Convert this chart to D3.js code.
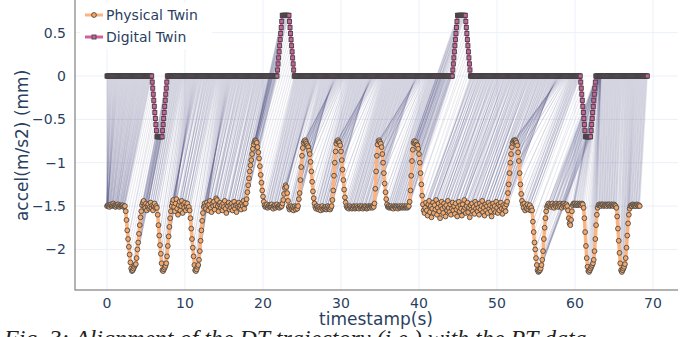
<!DOCTYPE html>
<html>
<head>
<meta charset="utf-8">
<script src="https://cdn.jsdelivr.net/npm/d3@7"></script>
<style>
  body { margin: 0; background: #fff; }
  svg { display: block; }
</style>
</head>
<body>
<div id="chart"></div>
<script>
// ---- data -------------------------------------------------------------
// physical twin, one sample every 0.1 s (already shown shifted down by 1.5)
const ptStep = 0.1;
const ptValues = [
  -1.50,-1.49,-1.50,-1.51,-1.49,-1.48,-1.50,-1.49,-1.47,-1.49,
  -1.50,-1.51,-1.49,-1.50,-1.48,-1.50,-1.51,-1.49,-1.50,-1.50,
  -1.49,-1.51,-1.50,-1.50,-1.56,-1.66,-1.78,-1.88,-1.97,-2.06,
  -2.15,-2.22,-2.25,-2.24,-2.22,-2.20,-2.18,-2.17,-2.10,-2.00,
  -1.92,-1.82,-1.72,-1.63,-1.56,-1.49,-1.46,-1.44,-1.50,-1.52,
  -1.47,-1.55,-1.50,-1.48,-1.53,-1.51,-1.46,-1.52,-1.49,-1.55,
  -1.50,-1.47,-1.52,-1.50,-1.52,-1.60,-1.72,-1.84,-1.95,-2.05,
  -2.16,-2.24,-2.25,-2.23,-2.21,-2.19,-2.16,-2.08,-1.96,-1.85,
  -1.74,-1.64,-1.56,-1.50,-1.46,-1.43,-1.51,-1.56,-1.47,-1.42,
  -1.53,-1.60,-1.49,-1.45,-1.55,-1.50,-1.44,-1.58,-1.48,-1.52,
  -1.46,-1.55,-1.50,-1.47,-1.53,-1.51,-1.55,-1.64,-1.76,-1.88,
  -1.98,-2.08,-2.18,-2.24,-2.25,-2.23,-2.20,-2.18,-2.12,-2.02,
  -1.90,-1.78,-1.67,-1.58,-1.51,-1.47,-1.50,-1.53,-1.46,-1.49,
  -1.55,-1.48,-1.44,-1.52,-1.57,-1.47,-1.50,-1.45,-1.54,-1.49,
  -1.41,-1.43,-1.50,-1.56,-1.48,-1.46,-1.52,-1.49,-1.55,-1.47,
  -1.51,-1.44,-1.53,-1.58,-1.48,-1.50,-1.46,-1.54,-1.49,-1.52,
  -1.47,-1.55,-1.50,-1.45,-1.53,-1.49,-1.57,-1.48,-1.51,-1.46,
  -1.52,-1.49,-1.54,-1.47,-1.50,-1.44,-1.53,-1.48,-1.47,-1.42,
  -1.34,-1.26,-1.18,-1.10,-1.03,-0.97,-0.90,-0.84,-0.79,-0.76,
  -0.74,-0.75,-0.77,-0.82,-0.88,-0.95,-1.04,-1.14,-1.23,-1.32,
  -1.39,-1.45,-1.49,-1.51,-1.50,-1.48,-1.52,-1.50,-1.49,-1.51,
  -1.50,-1.48,-1.51,-1.53,-1.50,-1.49,-1.52,-1.50,-1.48,-1.51,
  -1.50,-1.52,-1.49,-1.51,-1.50,-1.47,-1.43,-1.36,-1.29,-1.26,
  -1.28,-1.35,-1.44,-1.51,-1.54,-1.52,-1.50,-1.53,-1.51,-1.55,
  -1.52,-1.50,-1.54,-1.51,-1.53,-1.50,-1.42,-1.35,-1.20,-1.05,
  -0.92,-0.83,-0.77,-0.75,-0.74,-0.76,-0.78,-0.80,-0.82,-0.86,
  -0.90,-0.99,-1.10,-1.22,-1.33,-1.41,-1.47,-1.51,-1.53,-1.50,
  -1.52,-1.54,-1.51,-1.53,-1.55,-1.52,-1.50,-1.54,-1.52,-1.53,
  -1.51,-1.54,-1.52,-1.50,-1.53,-1.51,-1.54,-1.52,-1.50,-1.43,
  -1.32,-1.15,-1.00,-0.87,-0.78,-0.75,-0.74,-0.76,-0.77,-0.80,
  -0.87,-0.97,-1.08,-1.20,-1.31,-1.40,-1.46,-1.50,-1.52,-1.51,
  -1.53,-1.50,-1.52,-1.51,-1.53,-1.52,-1.50,-1.51,-1.53,-1.52,
  -1.50,-1.52,-1.51,-1.53,-1.50,-1.52,-1.51,-1.50,-1.53,-1.51,
  -1.52,-1.50,-1.51,-1.53,-1.52,-1.50,-1.51,-1.52,-1.50,-1.51,
  -1.52,-1.50,-1.51,-1.47,-1.30,-1.10,-0.92,-0.79,-0.75,-0.74,
  -0.76,-0.78,-0.82,-0.90,-1.00,-1.12,-1.24,-1.34,-1.42,-1.48,
  -1.51,-1.50,-1.52,-1.51,-1.50,-1.52,-1.51,-1.53,-1.50,-1.51,
  -1.52,-1.50,-1.51,-1.53,-1.51,-1.50,-1.52,-1.51,-1.50,-1.52,
  -1.51,-1.50,-1.52,-1.51,-1.50,-1.52,-1.51,-1.50,-1.45,-1.32,
  -1.15,-0.98,-0.85,-0.77,-0.75,-0.78,-0.76,-0.79,-0.80,-0.84,
  -0.90,-1.00,-1.12,-1.25,-1.38,-1.48,-1.55,-1.58,-1.52,-1.46,
  -1.55,-1.61,-1.48,-1.44,-1.57,-1.50,-1.63,-1.53,-1.46,-1.58,
  -1.49,-1.54,-1.43,-1.60,-1.52,-1.47,-1.56,-1.64,-1.50,-1.45,
  -1.53,-1.58,-1.47,-1.51,-1.62,-1.49,-1.55,-1.44,-1.52,-1.57,
  -1.48,-1.60,-1.53,-1.46,-1.55,-1.50,-1.59,-1.47,-1.54,-1.62,
  -1.51,-1.45,-1.56,-1.49,-1.53,-1.61,-1.48,-1.55,-1.43,-1.52,
  -1.58,-1.50,-1.46,-1.57,-1.52,-1.63,-1.49,-1.54,-1.47,-1.56,
  -1.51,-1.59,-1.45,-1.53,-1.48,-1.56,-1.52,-1.60,-1.47,-1.54,
  -1.50,-1.44,-1.57,-1.52,-1.61,-1.48,-1.55,-1.50,-1.58,-1.46,
  -1.53,-1.49,-1.56,-1.62,-1.51,-1.47,-1.54,-1.50,-1.57,-1.45,
  -1.52,-1.58,-1.48,-1.55,-1.50,-1.46,-1.53,-1.59,-1.49,-1.54,
  -1.51,-1.56,-1.48,-1.45,-1.35,-1.25,-1.12,-1.00,-0.90,-0.82,
  -0.77,-0.75,-0.74,-0.74,-0.75,-0.77,-0.80,-0.88,-0.98,-1.12,
  -1.25,-1.36,-1.44,-1.48,-1.52,-1.47,-1.55,-1.50,-1.53,-1.48,
  -1.54,-1.51,-1.49,-1.55,-1.52,-1.55,-1.68,-1.80,-1.92,-2.00,
  -2.10,-2.18,-2.24,-2.26,-2.25,-2.24,-2.22,-2.18,-2.12,-2.02,
  -1.88,-1.75,-1.64,-1.56,-1.51,-1.49,-1.47,-1.50,-1.48,-1.51,
  -1.49,-1.47,-1.50,-1.52,-1.48,-1.50,-1.47,-1.49,-1.51,-1.48,
  -1.50,-1.47,-1.49,-1.52,-1.48,-1.50,-1.47,-1.49,-1.51,-1.48,
  -1.50,-1.55,-1.64,-1.70,-1.72,-1.66,-1.56,-1.49,-1.47,-1.48,
  -1.47,-1.49,-1.48,-1.47,-1.49,-1.48,-1.47,-1.48,-1.49,-1.47,
  -1.48,-1.52,-1.64,-1.80,-1.96,-2.10,-2.20,-2.25,-2.26,-2.24,
  -2.22,-2.20,-2.18,-2.16,-2.12,-2.02,-1.88,-1.72,-1.60,-1.52,
  -1.49,-1.48,-1.49,-1.50,-1.48,-1.49,-1.48,-1.50,-1.49,-1.48,
  -1.49,-1.50,-1.48,-1.49,-1.48,-1.50,-1.49,-1.48,-1.49,-1.50,
  -1.48,-1.49,-1.50,-1.52,-1.62,-1.76,-1.90,-2.04,-2.16,-2.24,
  -2.26,-2.24,-2.22,-2.20,-2.17,-2.10,-1.98,-1.84,-1.70,-1.60,
  -1.53,-1.50,-1.49,-1.50,-1.48,-1.49,-1.50,-1.49,-1.50,-1.48,
  -1.49,-1.50,-1.49,-1.50
];

// digital twin, 15 samples per second: flat runs plus ramps
const dtStep = 1 / 15;
const dtRampUp = [0.07, 0.14, 0.21, 0.28, 0.35, 0.42, 0.49, 0.56, 0.63];
const dtRampDown = [0.63, 0.56, 0.49, 0.42, 0.35, 0.28, 0.21, 0.14, 0.07];
const dtLevel = 0.7;
const flat = (v, n) => new Array(n).fill(v);
const neg = arr => arr.map(v => -v);

const dtValues = [
  ...flat(0, 87),
  ...neg(dtRampUp), ...flat(-dtLevel, 11), ...neg(dtRampDown),
  ...flat(0, 212),
  ...dtRampUp, ...flat(dtLevel, 14), ...dtRampDown,
  ...flat(0, 305),
  ...dtRampUp, ...flat(dtLevel, 16), ...dtRampDown,
  ...flat(0, 212),
  ...neg(dtRampUp), ...flat(-dtLevel, 11), ...neg(dtRampDown),
  ...flat(0, 100)
];

// alignment (warping path): DT time -> PT time, s
const warpDt = [0, 1.5, 5.8, 6.4, 7.1, 7.75, 21.9, 22.5, 23.5, 24.15, 44.35, 45.0, 46.0, 46.7, 60.75, 61.35, 62.05, 62.7, 63.3, 69.27];
const warpPt = [0, 0.1, 2.3, 3.1, 3.8, 4.6, 18.0, 18.9, 19.2, 20.2, 38.8, 39.35, 40.0, 40.7, 54.5, 55.2, 55.8, 56.6, 62.9, 68.3];

const xTicks = [0, 10, 20, 30, 40, 50, 60, 70];
const yTicks = [0.5, 0, -0.5, -1, -1.5, -2];

// ---- expand the warping path to index pairs ------------------------------
const warp = d3.scaleLinear().domain(warpDt).range(warpPt).clamp(true);
const pairs = [];
let jPrev = 0;
dtValues.forEach((v, i) => {
  const jt = Math.max(jPrev, Math.min(ptValues.length - 1, Math.round(warp(i * dtStep) / ptStep)));
  if (jt === jPrev) pairs.push([i, jt]);
  else for (let j = jPrev + 1; j <= jt; j++) pairs.push([i, j]);
  jPrev = jt;
});

// ---- chart ------------------------------------------------------------
const width = 686, height = 337;
const margin = { top: 0, right: 8, bottom: 47, left: 75 };
const font = '"DejaVu Sans", sans-serif';
const textColor = '#2a3f5f';

const svg = d3.select('#chart').append('svg')
  .attr('width', width)
  .attr('height', height);

const x = d3.scaleLinear().domain([-4.1, 73.2]).range([margin.left, width - margin.right]);
const y = d3.scaleLinear().domain([-2.468, 0.877]).range([height - margin.bottom, margin.top]);

// grid
svg.append('g')
  .selectAll('line')
  .data(xTicks)
  .join('line')
  .attr('x1', d => x(d)).attr('x2', d => x(d))
  .attr('y1', y.range()[1]).attr('y2', y.range()[0])
  .attr('stroke', '#ebf0f8').attr('stroke-width', 1);

svg.append('g')
  .selectAll('line')
  .data(yTicks)
  .join('line')
  .attr('x1', x.range()[0]).attr('x2', x.range()[1])
  .attr('y1', d => y(d)).attr('y2', d => y(d))
  .attr('stroke', '#ebf0f8').attr('stroke-width', 1);

svg.append('clipPath').attr('id', 'plot-clip')
  .append('rect')
  .attr('x', margin.left).attr('y', margin.top)
  .attr('width', width - margin.left - margin.right)
  .attr('height', height - margin.top - margin.bottom);

const plot = svg.append('g').attr('clip-path', 'url(#plot-clip)');

// alignment lines
plot.append('g')
  .selectAll('line')
  .data(pairs)
  .join('line')
  .attr('x1', d => x(d[0] * dtStep))
  .attr('y1', d => y(dtValues[d[0]]))
  .attr('x2', d => x(d[1] * ptStep))
  .attr('y2', d => y(ptValues[d[1]]))
  .attr('stroke', '#505080')
  .attr('stroke-opacity', 0.2)
  .attr('stroke-width', 0.7);

// physical twin
const ptLine = d3.line().x((d, i) => x(i * ptStep)).y(d => y(d));
plot.append('path')
  .datum(ptValues)
  .attr('d', ptLine)
  .attr('fill', 'none')
  .attr('stroke', '#ffb27c')
  .attr('stroke-width', 3.5)
  .attr('stroke-linejoin', 'round');

plot.append('g')
  .selectAll('circle')
  .data(ptValues)
  .join('circle')
  .attr('cx', (d, i) => x(i * ptStep))
  .attr('cy', d => y(d))
  .attr('r', 2.4)
  .attr('fill', '#f6a869')
  .attr('stroke', '#4a4a4a')
  .attr('stroke-width', 0.9);

// digital twin
const dtLine = d3.line().x((d, i) => x(i * dtStep)).y(d => y(d));
plot.append('path')
  .datum(dtValues)
  .attr('d', dtLine)
  .attr('fill', 'none')
  .attr('stroke', '#d3609c')
  .attr('stroke-width', 3);

plot.append('g')
  .selectAll('rect')
  .data(dtValues)
  .join('rect')
  .attr('x', (d, i) => x(i * dtStep) - 2)
  .attr('y', d => y(d) - 2)
  .attr('width', 4).attr('height', 4)
  .attr('fill', '#c8649a')
  .attr('stroke', '#444')
  .attr('stroke-width', 0.9);

// axis lines
svg.append('line')
  .attr('x1', margin.left).attr('x2', margin.left)
  .attr('y1', 0).attr('y2', y.range()[0] + 0.5)
  .attr('stroke', '#999').attr('stroke-width', 1.5);
svg.append('line')
  .attr('x1', margin.left).attr('x2', x.range()[1])
  .attr('y1', y.range()[0]).attr('y2', y.range()[0])
  .attr('stroke', '#999').attr('stroke-width', 1.5);

// tick labels
const fmt = d3.format('');
svg.append('g')
  .selectAll('text')
  .data(xTicks)
  .join('text')
  .attr('x', d => x(d))
  .attr('y', y.range()[0] + 18)
  .attr('text-anchor', 'middle')
  .attr('font-family', font).attr('font-size', 14)
  .attr('fill', textColor)
  .text(d => fmt(d));

svg.append('g')
  .selectAll('text')
  .data(yTicks)
  .join('text')
  .attr('x', margin.left - 9)
  .attr('y', d => y(d))
  .attr('dy', '0.36em')
  .attr('text-anchor', 'end')
  .attr('font-family', font).attr('font-size', 14)
  .attr('fill', textColor)
  .text(d => fmt(d));

// axis titles
svg.append('text')
  .attr('x', 376)
  .attr('y', 325)
  .attr('text-anchor', 'middle')
  .attr('font-family', font).attr('font-size', 17)
  .attr('fill', textColor)
  .text('timestamp(s)');

svg.append('text')
  .attr('transform', `translate(28, ${y(-0.8)}) rotate(-90)`)
  .attr('text-anchor', 'middle')
  .attr('font-family', font).attr('font-size', 17)
  .attr('fill', textColor)
  .text('accel(m/s2) (mm)');

// legend
const legend = svg.append('g');
legend.append('rect')
  .attr('x', 80).attr('y', 3).attr('width', 132).attr('height', 46)
  .attr('fill', '#fff');

const legendItems = [
  { name: 'Physical Twin', color: '#ffb27c', fill: '#f6a869', shape: 'circle', y: 15 },
  { name: 'Digital Twin', color: '#d3609c', fill: '#c8649a', shape: 'square', y: 37 }
];
legendItems.forEach(item => {
  const g = legend.append('g').attr('transform', `translate(0, ${item.y})`);
  g.append('line')
    .attr('x1', 85).attr('x2', 103)
    .attr('stroke', item.color).attr('stroke-width', 3);
  if (item.shape === 'circle') {
    g.append('circle').attr('cx', 94).attr('r', 2.4)
      .attr('fill', item.fill).attr('stroke', '#4a4a4a').attr('stroke-width', 0.9);
  } else {
    g.append('rect').attr('x', 92).attr('y', -2).attr('width', 4).attr('height', 4)
      .attr('fill', item.fill).attr('stroke', '#444').attr('stroke-width', 0.9);
  }
  g.append('text')
    .attr('x', 106).attr('dy', '0.36em')
    .attr('font-family', font).attr('font-size', 14)
    .attr('fill', textColor)
    .text(item.name);
});

// caption, cut off by the bottom edge as in the source figure
svg.append('text')
  .attr('x', 4).attr('y', 346)
  .attr('font-family', '"Liberation Serif", serif')
  .attr('font-style', 'italic')
  .attr('font-size', 24)
  .attr('fill', '#222')
  .text('Fig. 3: Alignment of the DT trajectory (i.e.) with the PT data');
</script>
</body>
</html>
